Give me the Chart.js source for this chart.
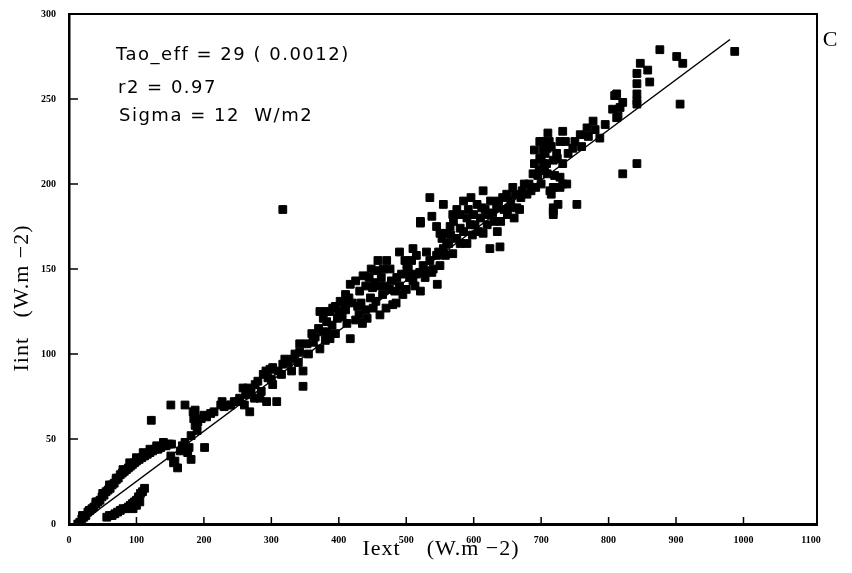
<!DOCTYPE html>
<html>
<head>
<meta charset="UTF-8"/>
<script src="https://cdn.jsdelivr.net/npm/chart.js@4.4.3/dist/chart.umd.min.js"></script>
<style>
  *{margin:0;padding:0}
  body{background:#fff;width:852px;height:573px;overflow:hidden}
</style>
</head>
<body>
<canvas id="c" width="852" height="573"></canvas>
<script>
// ─── Data (Iext, Iint in W.m-2) ───────────────────────────────────────────────
const xTicks = [0,100,200,300,400,500,600,700,800,900,1000,1100];
const yTicks = [0,50,100,150,200,250,300];

// upper curved branch near the origin
const curveX = [13,16,19,22,25,28,31,34,37,40,43,46,49,52,55,58,61,64,67,70,73,76,79,82,85,88,91,94,97,100,104,108,112,116,120,124,128,132,136,140,144,148,152];
const curveY = [0,1,3,4,5,7,8,9,10,12,13,14,16,17,19,20,21,23,24,26,27,29,30,31,32,33,34,35,36,37,38,39,40,41,42,43,44,44,45,46,46,47,47];
const curve2X = [20,30,40,50,60,70,80,90,100,110,120,130,140];
const curve2Y = [5,8,13,18,23,27,32,36,39,42,44,46,48];

// lower branch
const lowX = [56,60,64,68,72,76,80,84,88,91,94,97,100,103,106,109,112,95,100,105];
const lowY = [4,5,5,6,7,8,9,9,10,11,12,13,14,16,18,19,21,9,11,13];

// 120 – 400
const groupA = [[122,61],[151,70],[172,70],[187,67],[157,37],[161,33],[151,40],[155,36],[165,43],[172,48],[181,52],[176,42],[201,45],[181,38],[187,58],[196,62],[210,65],[225,70],[240,70],[190,55],[178,45],[168,46],[185,62],[200,64],[184,66],[191,60],[204,63],[227,72],[239,70],[253,74],[258,80],[268,66],[283,74],[293,72],[308,72],[276,82],[288,88],[302,92],[302,82],[317,94],[332,97],[342,101],[347,90],[347,81],[353,106],[362,107],[372,103],[377,113],[382,119],[382,125],[391,127],[387,109],[215,66],[230,69],[245,72],[262,76],[270,78],[280,84],[295,86],[310,90],[325,95],[292,90],[298,91],[317,185],[250,72],[265,80],[285,78],[300,85],[315,88],[320,97],[335,100],[340,95],[355,100],[365,110],[330,90],[275,74],[260,70]];

// 340 – 580
const groupB = [[342,106],[362,107],[377,121],[387,125],[382,113],[402,131],[417,141],[431,137],[417,109],[442,121],[451,127],[461,123],[457,149],[466,150],[471,155],[486,145],[480,129],[495,135],[501,153],[510,162],[510,143],[521,137],[531,149],[540,150],[546,141],[555,162],[560,171],[569,159],[521,177],[395,128],[405,122],[410,126],[420,130],[425,120],[435,118],[440,140],[445,145],[450,139],[455,131],[465,135],[470,127],[475,138],[485,130],[490,140],[500,138],[505,145],[515,147],[525,152],[535,155],[545,158],[550,152],[390,117],[370,115],[372,125],[360,112],[398,121],[410,135],[425,143],[440,126],[460,140],[476,150],[498,155],[490,160],[515,158],[530,160],[400,125],[408,130],[415,133],[428,128],[433,130],[447,133],[453,142],[463,145],[468,140],[478,143],[483,137],[493,147],[503,150],[508,155],[513,140],[520,148],[528,145],[538,148],[548,160],[553,168],[558,158],[563,165],[436,146],[448,150],[458,155],[430,123],[412,118],[395,112],[380,108]];

// 500 – 760
const groupC = [[501,149],[521,178],[538,181],[535,192],[550,171],[555,188],[569,182],[580,174],[590,180],[590,165],[605,188],[614,196],[614,171],[624,162],[639,163],[634,186],[649,194],[658,198],[664,186],[679,194],[688,206],[698,215],[708,212],[723,218],[732,200],[718,184],[713,196],[753,188],[728,198],[560,165],[565,175],[575,168],[585,172],[595,176],[600,182],[610,180],[620,176],[628,183],[640,178],[645,185],[655,190],[670,192],[675,200],[685,196],[695,205],[700,200],[705,208],[570,178],[545,175],[625,190],[660,180],[635,172],[575,185],[596,192],[617,185],[650,182],[690,212],[703,220],[715,222],[580,182],[585,190],[592,185],[602,176],[607,172],[612,186],[622,182],[630,178],[637,190],[643,192],[652,186],[662,194],[668,185],[672,196],[682,200],[692,198],[697,208],[702,225],[706,218],[580,165],[598,170],[566,170]];

// 700 – 990
const groupD = [[709,221],[718,214],[728,225],[732,231],[732,212],[747,221],[758,229],[768,233],[777,237],[787,227],[809,252],[817,245],[812,239],[842,253],[842,247],[906,247],[842,212],[821,206],[709,206],[718,198],[728,204],[738,200],[718,186],[718,182],[703,212],[876,279],[901,275],[910,271],[847,271],[842,265],[858,267],[861,260],[842,259],[842,249],[812,253],[821,248],[806,244],[814,240],[987,278],[740,218],[750,225],[760,222],[770,228],[780,232],[795,235],[700,215],[690,220],[712,225],[724,215],[736,225],[698,225],[710,230],[720,205],[725,188],[715,194]];

// regression line
const fitX = [15, 980];
const fitY = [0, 285];

const notes = ['Tao_eff = 29 ( 0.0012)', 'r2 = 0.97', 'Sigma = 12  W/m2'];

// ─── Build points ─────────────────────────────────────────────────────────────
const zip = (xs, ys) => xs.map((x, i) => ({x, y: ys[i]}));
const pairs = a => a.map(([x, y]) => ({x, y}));
const points = [
  ...zip(curveX, curveY), ...zip(curve2X, curve2Y), ...zip(lowX, lowY),
  ...pairs(groupA), ...pairs(groupB), ...pairs(groupC), ...pairs(groupD),
];

// ─── Frame, inward ticks, texts ───────────────────────────────────────────────
const extras = {
  id: 'extras',
  afterDraw(chart) {
    const {ctx, chartArea: a, scales: {x, y}} = chart;
    ctx.save();
    ctx.strokeStyle = '#000';
    ctx.lineWidth = 2;
    ctx.beginPath();
    ctx.moveTo(a.left, a.top); ctx.lineTo(a.right, a.top); ctx.lineTo(a.right, a.bottom);
    ctx.stroke();

    ctx.lineWidth = 1.5;
    ctx.beginPath();
    xTicks.slice(1, -1).forEach(v => {
      const px = x.getPixelForValue(v);
      ctx.moveTo(px, a.bottom); ctx.lineTo(px, a.bottom - 7);
    });
    yTicks.slice(1, -1).forEach(v => {
      const py = y.getPixelForValue(v);
      ctx.moveTo(a.left, py); ctx.lineTo(a.left + 9, py);
    });
    ctx.stroke();

    ctx.fillStyle = '#000';
    ctx.textAlign = 'left';
    ctx.textBaseline = 'alphabetic';
    ctx.font = '18px "DejaVu Sans"';
    ctx.letterSpacing = '1.5px';
    ctx.fillText(notes[0], 116, 60);
    ctx.fillText(notes[1], 118, 93);
    ctx.fillText(notes[2], 119, 121);

    ctx.letterSpacing = '1px';
    ctx.font = '22px "Liberation Serif"';
    ctx.textAlign = 'center';
    ctx.textBaseline = 'middle';
    ctx.fillText('Iext    (W.m \u22122)', 441, 549);
    ctx.save();
    ctx.translate(22, 298);
    ctx.rotate(-Math.PI / 2);
    ctx.fillText('Iint   (W.m \u22122)', 0, 0);
    ctx.restore();

    ctx.letterSpacing = '0px';
    ctx.font = '22px "Liberation Serif"';
    ctx.fillText('C', 830, 40);
    ctx.restore();
  }
};

const tickFont = {family: '"Liberation Serif"', size: 10, weight: 'bold'};

new Chart(document.getElementById('c'), {
  type: 'scatter',
  data: {
    datasets: [
      {type: 'line', data: zip(fitX, fitY), borderColor: '#000', borderWidth: 1.5,
        pointRadius: 0, fill: false, tension: 0},
      {data: points, pointStyle: 'rect', pointRadius: 5.5, backgroundColor: '#000',
        borderColor: '#000', borderWidth: 1},
    ]
  },
  options: {
    responsive: false, animation: false, events: [],
    layout: {autoPadding: false, padding: {left: 28, right: 35, top: 14, bottom: 17}},
    plugins: {legend: {display: false}, tooltip: {enabled: false}},
    scales: {
      x: {
        type: 'linear', min: 0, max: 1109,
        afterBuildTicks: s => { s.ticks = xTicks.map(v => ({value: v})); },
        ticks: {font: tickFont, color: '#000', padding: 10, maxRotation: 0, autoSkip: false,
          callback: v => String(v)},
        grid: {display: false, drawTicks: false},
        border: {display: true, color: '#000', width: 3},
      },
      y: {
        type: 'linear', min: 0, max: 300,
        afterBuildTicks: s => { s.ticks = yTicks.map(v => ({value: v})); },
        afterFit: s => { s.paddingTop = 0; s.paddingBottom = 0; },
        ticks: {font: tickFont, color: '#000', padding: 13, autoSkip: false,
          callback: v => String(v)},
        grid: {display: false, drawTicks: false},
        border: {display: true, color: '#000', width: 2.5},
      }
    }
  },
  plugins: [extras]
});
</script>
</body>
</html>
